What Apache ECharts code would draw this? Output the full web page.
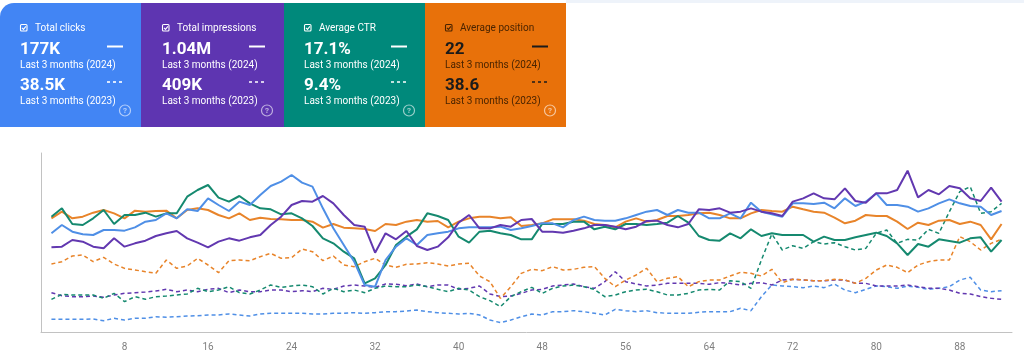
<!DOCTYPE html>
<html><head><meta charset="utf-8">
<script src="https://cdn.jsdelivr.net/npm/echarts@6/dist/echarts.min.js"></script>
<style>html,body{margin:0;padding:0;background:#fff}#c{width:1024px;height:362px}</style>
</head><body><div id="c"></div>
<script>
// ---- data (values on a shared normalized height scale) ----
const days = Array.from({length: 92}, (_, i) => i + 1);
const xTicks = [8, 16, 24, 32, 40, 48, 56, 64, 72, 80, 88];

const clicks2024 = [296,321,301,293,291,306,306,304,314,331,336,356,341,368,363,401,381,363,391,381,411,438,451,471,448,436,371,311,261,211,
  141,136,216,256,281,261,291,296,301,311,314,314,314,316,306,311,318,326,326,314,336,346,336,334,334,341,351,361,366,351,
  366,358,358,341,341,356,341,388,361,353,346,386,386,384,388,371,401,378,391,416,381,381,376,361,371,386,398,386,378,376,351,363];
const impressions2024 = [254,256,276,271,256,251,281,256,266,274,288,296,303,281,268,254,271,281,274,284,291,321,346,381,393,391,408,386,351,321,
  316,238,296,278,303,258,246,256,284,328,351,311,311,321,316,336,339,301,301,298,304,311,321,321,316,308,316,333,334,321,
  314,324,368,366,371,358,361,371,361,356,348,391,401,416,401,398,431,393,388,416,416,426,484,404,426,413,438,431,401,393,433,391];
const ctr2024 = [346,371,324,321,341,366,324,351,351,358,346,356,356,406,426,441,403,391,408,386,371,368,353,356,341,318,281,266,241,221,
  146,161,201,261,286,308,356,348,336,286,268,301,304,296,291,278,278,324,324,324,331,331,308,316,308,324,324,321,324,328,
  348,328,288,276,274,296,281,308,288,296,291,291,291,271,286,276,276,284,291,298,288,266,231,264,256,278,273,268,281,284,241,276];
const position2024 = [341,361,341,346,358,366,356,341,364,361,363,364,341,366,371,366,351,341,356,336,343,339,338,336,336,331,313,324,313,311,
  309,303,324,321,331,336,331,333,314,331,341,346,346,341,344,318,321,326,338,338,338,334,324,321,314,331,341,331,336,348,
  348,351,356,358,351,341,341,356,366,363,361,376,368,361,358,343,326,334,351,348,348,331,309,328,321,334,336,324,331,321,278,324];

const clicks2023 = [38,38,38,38,39,34,41,36,41,41,46,44,46,48,49,51,51,54,51,48,54,56,56,56,56,54,54,56,56,58,
  56,58,61,61,63,66,61,58,56,54,56,51,36,28,36,46,54,51,61,61,64,61,56,51,68,64,61,64,58,56,
  56,56,59,61,61,61,71,64,106,141,138,136,133,138,133,144,126,118,128,138,136,131,138,134,128,131,136,156,164,126,121,124];
const impressions2023 = [118,109,106,106,108,104,111,116,118,120,123,128,121,126,121,128,131,118,126,121,121,126,126,121,124,121,131,128,138,141,
  138,134,144,143,139,144,136,141,141,128,131,138,114,106,108,116,126,128,138,141,144,136,131,151,181,151,144,138,141,146,
  146,146,146,143,148,146,141,146,148,141,156,158,156,154,154,156,156,146,146,138,138,138,141,136,131,131,126,116,114,106,101,98];
const ctr2023 = [98,113,111,111,111,101,116,91,106,98,106,108,111,114,131,121,126,136,118,114,126,141,134,138,141,136,114,131,121,126,
  118,131,138,136,136,141,136,128,121,131,126,106,94,76,106,121,134,116,131,138,141,136,128,106,111,121,126,128,121,111,
  111,116,126,128,126,154,151,131,216,294,246,259,251,271,264,268,256,246,251,296,306,266,278,276,308,296,361,421,436,356,361,386];
const position2023 = [204,211,228,231,211,224,204,191,186,181,176,216,191,198,221,201,178,214,216,214,226,236,221,223,249,241,214,228,201,196,
  211,221,201,194,203,204,208,204,198,204,206,168,151,101,136,176,188,184,196,186,188,194,196,161,136,156,171,191,151,161,
  166,136,151,156,156,168,179,176,168,188,148,158,156,154,154,158,156,146,161,186,201,194,178,201,211,216,216,286,271,246,266,278];

const cardTitles = ['Total clicks', 'Total impressions', 'Average CTR', 'Average position'];
const cardValues2024 = ['177K', '1.04M', '17.1%', '22'];
const cardValues2023 = ['38.5K', '409K', '9.4%', '38.6'];
const periodLabels = ['Last 3 months (2024)', 'Last 3 months (2023)'];

// ---- styles ----
const C = { blue: '#4285f4', purple: '#5e35b1', teal: '#00897b', orange: '#e8710a' };
const L = { blue: '#4f8fe6', purple: '#6238b0', teal: '#15896f', orange: '#e8842a' };
const cardColors = [C.blue, C.purple, C.teal, C.orange];
const cardX = [0, 141, 284, 425];
const cardW = [141, 143, 141, 141];
const FONT = 'Roboto, "Noto Sans", Arial, sans-serif';

function cardGraphics(i) {
  const x0 = cardX[i], w = cardW[i];
  const dark = i === 3;
  const txt = dark ? '#4a2400' : '#ffffff';
  const val = dark ? '#1b1b1b' : '#ffffff';
  const ico = dark ? '#1b1b1b' : '#ffffff';
  const help = 'rgba(255,255,255,0.6)';
  const ox = x0 + (i === 1 ? 21 : 20);
  const dx = x0 + (i === 1 ? 108 : 107);
  const els = [];
  els.push({ type: 'rect', shape: { x: x0, y: 3, width: w, height: 124, r: i === 0 ? [14, 0, 0, 0] : 0 }, style: { fill: cardColors[i] }, silent: true });
  // checkbox
  els.push({ type: 'rect', shape: { x: ox + 0.5, y: 24.5, width: 6.5, height: 6.5, r: 1 }, style: { fill: 'none', stroke: txt, lineWidth: 1.1 }, silent: true });
  els.push({ type: 'polyline', shape: { points: [[ox + 2, 27.9], [ox + 3.5, 29.4], [ox + 5.9, 26.4]] }, style: { fill: 'none', stroke: txt, lineWidth: 1.1 }, silent: true });
  els.push({ type: 'text', x: ox + 15, y: 28, style: { text: cardTitles[i], fill: txt, fontSize: 10, fontFamily: FONT, verticalAlign: 'middle' }, silent: true });
  els.push({ type: 'text', x: ox, y: 49.5, style: { text: cardValues2024[i], fill: val, fontSize: 17, fontWeight: 'bold', fontFamily: FONT, verticalAlign: 'middle' }, silent: true });
  els.push({ type: 'text', x: ox, y: 65.5, style: { text: periodLabels[0], fill: txt, fontSize: 10, fontFamily: FONT, verticalAlign: 'middle' }, silent: true });
  els.push({ type: 'text', x: ox, y: 86, style: { text: cardValues2023[i], fill: val, fontSize: 17, fontWeight: 'bold', fontFamily: FONT, verticalAlign: 'middle' }, silent: true });
  els.push({ type: 'text', x: ox, y: 101.5, style: { text: periodLabels[1], fill: txt, fontSize: 10, fontFamily: FONT, verticalAlign: 'middle' }, silent: true });
  // legend-like line icons
  els.push({ type: 'line', shape: { x1: dx, y1: 46.5, x2: dx + 16, y2: 46.5 }, style: { stroke: ico, lineWidth: 2 }, silent: true });
  els.push({ type: 'line', shape: { x1: dx, y1: 82, x2: dx + 16, y2: 82 }, style: { stroke: ico, lineWidth: 1.6, lineDash: [3, 3] }, silent: true });
  // help icon
  els.push({ type: 'circle', shape: { cx: dx + 18, cy: 110.5, r: 5.5 }, style: { fill: 'none', stroke: help, lineWidth: 1.2 }, silent: true });
  els.push({ type: 'text', x: dx + 18, y: 111, style: { text: '?', fill: help, fontSize: 8, fontWeight: 'bold', fontFamily: FONT, align: 'center', verticalAlign: 'middle' }, silent: true });
  return els;
}

const graphics = [{ type: 'rect', shape: { x: 566, y: 0, width: 458, height: 3 }, style: { fill: '#eef3fa' }, silent: true }];
for (let i = 0; i < 4; i++) graphics.push(...cardGraphics(i));

function line(name, arr, color, dashed, z) {
  return {
    type: 'line', name, z, symbol: 'none', silent: true,
    data: arr.map((v, i) => [days[i], v]),
    lineStyle: { color, width: dashed ? 1.5 : 2, type: dashed ? [4, 3] : 'solid' }
  };
}

const chart = echarts.init(document.getElementById('c'), null, { renderer: 'canvas' });
chart.setOption({
  animation: false,
  backgroundColor: '#ffffff',
  grid: { left: 41, right: 12, top: 153, bottom: 30 },
  xAxis: {
    type: 'value', min: 0, max: 93, interval: 8,
    axisLine: { show: true, lineStyle: { color: '#c2c2c2', width: 1 } },
    axisTick: { show: false }, splitLine: { show: false },
    axisLabel: { color: '#7f7f7f', fontSize: 10, fontFamily: FONT, margin: 10, formatter: v => xTicks.includes(v) ? String(v) : '' }
  },
  yAxis: {
    type: 'value', min: 0, max: 537,
    axisLine: { show: true, lineStyle: { color: '#c2c2c2', width: 1 } },
    axisTick: { show: false }, splitLine: { show: false }, axisLabel: { show: false }
  },
  series: [
    line('Clicks 2023', clicks2023, L.blue, true, 2),
    line('Impressions 2023', impressions2023, L.purple, true, 2),
    line('CTR 2023', ctr2023, L.teal, true, 2),
    line('Position 2023', position2023, L.orange, true, 2),
    line('Position 2024', position2024, L.orange, false, 3),
    line('CTR 2024', ctr2024, L.teal, false, 3),
    line('Clicks 2024', clicks2024, L.blue, false, 3),
    line('Impressions 2024', impressions2024, L.purple, false, 3)
  ],
  graphic: graphics
});
</script>
</body></html>
